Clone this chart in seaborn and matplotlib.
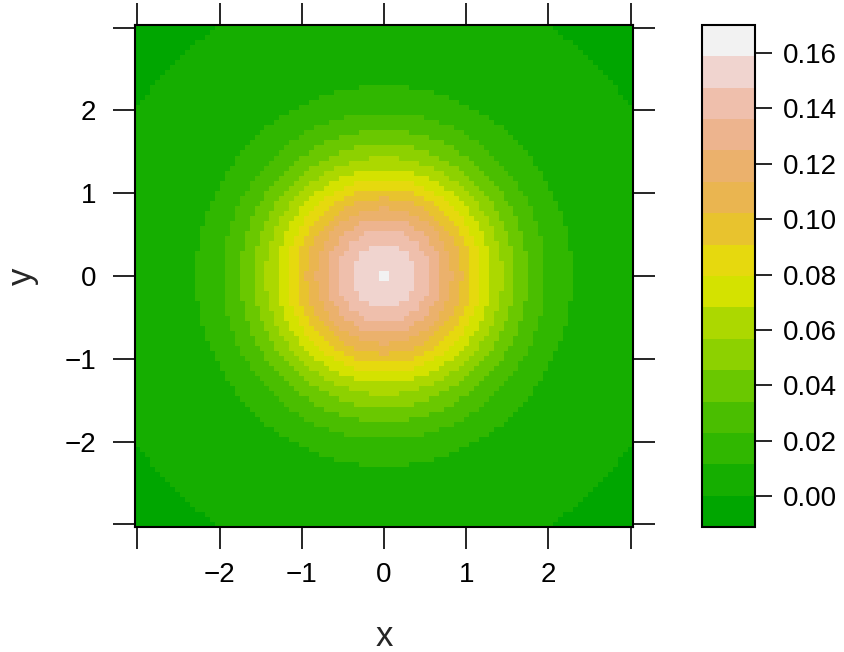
import numpy as np
import pandas as pd
import matplotlib
matplotlib.use("Agg")
import matplotlib.pyplot as plt
from matplotlib.colors import ListedColormap, BoundaryNorm
import seaborn as sns

# ---- data -------------------------------------------------------------
# grid coordinates (100 points on each axis, -3 .. 3)
grid = np.linspace(-3, 3, 100)

# marginal density values for the positive half of the grid (x = 0.0303 .. 3)
half_density = [
    0.398759, 0.397297, 0.394389, 0.390067, 0.384378, 0.377383, 0.369158,
    0.359786, 0.349367, 0.338007, 0.325817, 0.312915, 0.299423, 0.285463,
    0.271153, 0.256619, 0.241971, 0.227324, 0.212782, 0.198438, 0.184385,
    0.170694, 0.157447, 0.144691, 0.132482, 0.120857, 0.109851, 0.099477,
    0.089752, 0.080685, 0.072269, 0.064490, 0.057339, 0.050792, 0.044826,
    0.039420, 0.034537, 0.030147, 0.026222, 0.022723, 0.019619, 0.016875,
    0.014463, 0.012348, 0.010505, 0.008905, 0.007521, 0.006329, 0.005305,
    0.004432,
]

# colour bin boundaries (16 bins)
levels = [
    -0.01111, 0.00022, 0.01155, 0.02288, 0.03421, 0.04553, 0.05686, 0.06819,
    0.07952, 0.09084, 0.10217, 0.11350, 0.12483, 0.13615, 0.14748, 0.15881,
    0.17014,
]

# terrain colours, one per bin
bin_colors = [
    "#00A600", "#15AE00", "#30B700", "#4ABE00", "#6AC800", "#8DD100",
    "#ACD800", "#D4E200", "#E6D90E", "#E8C32E", "#EAB550", "#EBB16C",
    "#EDB48E", "#EFBFAC", "#F0D4CF", "#F2F2F2",
]

axis_ticks = [-3, -2, -1, 0, 1, 2, 3]
axis_tick_labels = ["", "\u22122", "\u22121", "0", "1", "2", ""]
cbar_ticks = [0.00, 0.02, 0.04, 0.06, 0.08, 0.10, 0.12, 0.14, 0.16]
cbar_tick_labels = ["0.00", "0.02", "0.04", "0.06", "0.08", "0.10",
                    "0.12", "0.14", "0.16"]

# ---- build table --------------------------------------------------------
marg = np.array(half_density[::-1] + half_density)
z = np.outer(marg, marg)  # rows: y, columns: x
df = pd.DataFrame(z, index=grid, columns=grid)

# ---- plot ---------------------------------------------------------------
sns.set_theme(style="white")
plt.rcParams["font.family"] = ["Liberation Sans", "DejaVu Sans"]

W, H = 845, 652
fig = plt.figure(figsize=(W / 100, H / 100), dpi=100)
fig.patch.set_facecolor("white")

def px_axes(x0, y0, x1, y1):
    return fig.add_axes([x0 / W, 1 - y1 / H, (x1 - x0) / W, (y1 - y0) / H])

ax = px_axes(135, 25, 633, 527)
cax = px_axes(702, 25, 755, 527)

cmap = ListedColormap(bin_colors)
norm = BoundaryNorm(levels, cmap.N)

sns.heatmap(df, ax=ax, cmap=cmap, norm=norm, cbar=True, cbar_ax=cax,
            xticklabels=False, yticklabels=False, linewidths=0,
            cbar_kws={"ticks": cbar_ticks})
ax.invert_yaxis()  # first row (y = -3) at the bottom

# tick positions on the heatmap's cell-index scale
cell_pos = np.arange(len(grid)) + 0.5
xpos = np.interp(axis_ticks, grid, cell_pos)
ypos = np.interp(axis_ticks, grid, cell_pos)

ax.set_xticks(xpos)
ax.set_xticklabels(axis_tick_labels)
ax.set_yticks(ypos)
ax.set_yticklabels(axis_tick_labels)
ax.tick_params(axis="both", direction="out", length=16, width=1.2,
               color="black", labelsize=20, labelcolor="black",
               top=True, right=True, bottom=True, left=True,
               labeltop=False, labelright=False)
ax.tick_params(axis="x", pad=9)
ax.tick_params(axis="y", pad=12)
for s in ax.spines.values():
    s.set_visible(True)
    s.set_color("black")
    s.set_linewidth(1.5)

ax.set_xlabel("x", fontsize=25, labelpad=23)
ax.set_ylabel("y", fontsize=25, labelpad=18)

cbar = ax.collections[0].colorbar
cbar.set_ticks(cbar_ticks)
cbar.set_ticklabels(cbar_tick_labels)
cbar.ax.minorticks_off()
cbar.ax.tick_params(which="major", direction="out", length=12, width=1.2,
                    color="black", labelsize=20, labelcolor="black", pad=8,
                    right=True, left=False)
cbar.ax.tick_params(which="minor", length=0)
cbar.outline.set_visible(True)
cbar.outline.set_edgecolor("black")
cbar.outline.set_linewidth(1.5)

fig.savefig("out.png", dpi=100, facecolor="white")
